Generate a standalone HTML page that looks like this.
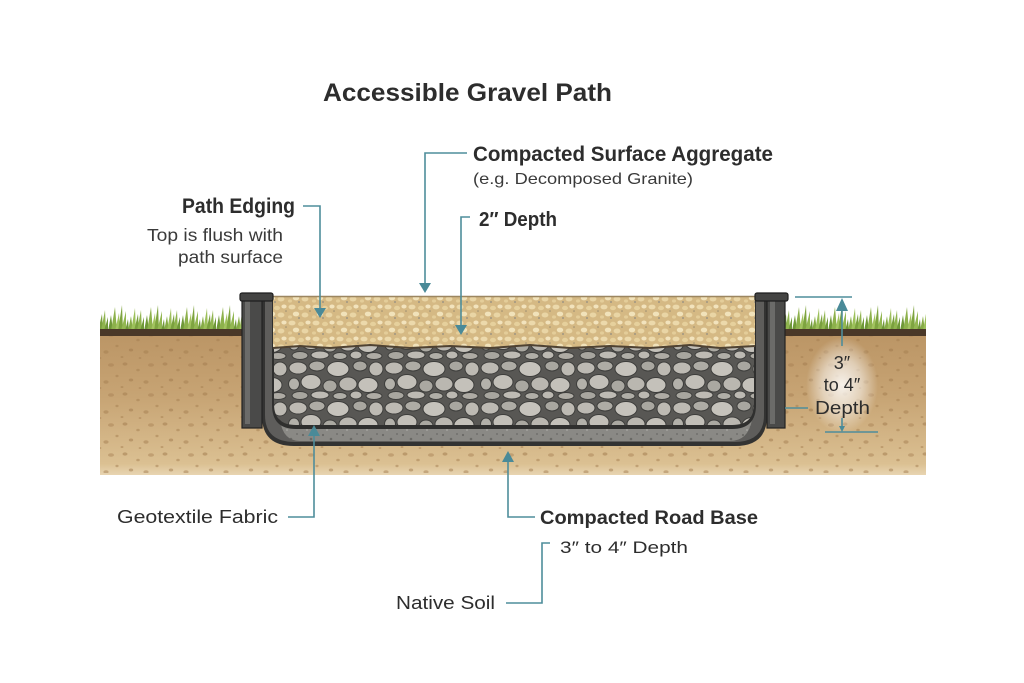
<!DOCTYPE html>
<html>
<head>
<meta charset="utf-8">
<style>
  html,body{margin:0;padding:0;background:#fff;}
  svg{display:block;}
  text{font-family:"Liberation Sans","DejaVu Sans",sans-serif;}
</style>
</head>
<body>
<svg width="1024" height="683" viewBox="0 0 1024 683" xmlns="http://www.w3.org/2000/svg">
  <defs>
    <linearGradient id="soilG" x1="0" y1="0" x2="0" y2="1">
      <stop offset="0" stop-color="#bb9565"/>
      <stop offset="0.45" stop-color="#c7a474"/>
      <stop offset="0.92" stop-color="#dbc092"/>
      <stop offset="1" stop-color="#e8d5b2"/>
    </linearGradient>
    <pattern id="soilP" patternUnits="userSpaceOnUse" width="40" height="30">
      <ellipse cx="5" cy="4" rx="2.5" ry="1.6" fill="#a47d50" opacity="0.55"/>
      <ellipse cx="18" cy="10" rx="1.8" ry="1.3" fill="#a47d50" opacity="0.5"/>
      <ellipse cx="31" cy="5" rx="3" ry="1.8" fill="#a47d50" opacity="0.45"/>
      <ellipse cx="11" cy="20" rx="2.2" ry="1.5" fill="#9e774b" opacity="0.5"/>
      <ellipse cx="26" cy="22" rx="2.6" ry="1.7" fill="#a47d50" opacity="0.5"/>
      <ellipse cx="37" cy="16" rx="1.6" ry="1.2" fill="#a47d50" opacity="0.5"/>
      <ellipse cx="2" cy="27" rx="1.5" ry="1" fill="#a47d50" opacity="0.5"/>
      <ellipse cx="20" cy="28" rx="1.4" ry="1" fill="#a47d50" opacity="0.45"/>
    </pattern>
    <pattern id="grassP" patternUnits="userSpaceOnUse" x="0" y="301" width="36" height="30">
      <polygon points="0,30 3,14 5,30" fill="#6f9838"/>
      <polygon points="3,30 7,6 9,30" fill="#8db14c"/>
      <polygon points="7,30 11,12 12,30" fill="#a2c35f"/>
      <polygon points="10,30 14,4 15,30" fill="#7ea440"/>
      <polygon points="13,30 18,10 18,30" fill="#93b752"/>
      <polygon points="17,30 20,18 21,30" fill="#6f9838"/>
      <polygon points="20,30 23,15 25,30" fill="#86ab46"/>
      <polygon points="23,30 27,7 28,30" fill="#9cc05a"/>
      <polygon points="26,30 30,13 31,30" fill="#7aa03e"/>
      <polygon points="29,30 33,9 34,30" fill="#8fb44e"/>
      <polygon points="32,30 36,16 36,30" fill="#6f9838"/>
    </pattern>
    <pattern id="aggP" patternUnits="userSpaceOnUse" width="24" height="16">
      <rect width="24" height="16" fill="#d5b984"/>
      <ellipse cx="4" cy="3" rx="3.5" ry="2.4" fill="#ecd9ab"/>
      <ellipse cx="13" cy="4" rx="3" ry="2.2" fill="#e6d09c"/>
      <ellipse cx="20" cy="2.5" rx="2.6" ry="2" fill="#f2e3bd"/>
      <ellipse cx="8" cy="10" rx="3.2" ry="2.4" fill="#f1e2ba"/>
      <ellipse cx="17" cy="11" rx="3.4" ry="2.5" fill="#e9d5a5"/>
      <ellipse cx="2" cy="13" rx="2" ry="1.6" fill="#e4cd99"/>
      <circle cx="11" cy="14" r="0.9" fill="#8f8a80"/>
      <circle cx="22" cy="7" r="0.8" fill="#9a8c70"/>
    </pattern>
    <pattern id="gravP" patternUnits="userSpaceOnUse" width="96" height="40">
      <rect width="96" height="40" fill="#585754"/>
      <g stroke="#3e3e3c" stroke-width="1">
        <ellipse cx="10" cy="8" rx="9" ry="6" fill="#bdbab3"/>
        <ellipse cx="29" cy="6" rx="8" ry="5" fill="#aeaca5"/>
        <ellipse cx="50" cy="9" rx="11" ry="7.5" fill="#c6c3bc"/>
        <ellipse cx="72" cy="6" rx="7" ry="5" fill="#a9a7a0"/>
        <ellipse cx="88" cy="9" rx="7" ry="7" fill="#bdbab3"/>
        <ellipse cx="6" cy="24" rx="5.5" ry="6" fill="#b3b1aa"/>
        <ellipse cx="23" cy="22" rx="10" ry="7.5" fill="#c2bfb8"/>
        <ellipse cx="42" cy="26" rx="7" ry="6" fill="#aaa8a1"/>
        <ellipse cx="60" cy="24" rx="9" ry="7" fill="#bab7b0"/>
        <ellipse cx="80" cy="25" rx="10" ry="7.5" fill="#c4c1ba"/>
        <ellipse cx="12" cy="35.5" rx="8" ry="4" fill="#a8a69f"/>
        <ellipse cx="32" cy="35" rx="9" ry="4" fill="#bebbb4"/>
        <ellipse cx="52" cy="36" rx="7" ry="3.5" fill="#b0aea7"/>
        <ellipse cx="68" cy="35" rx="6" ry="4" fill="#bcb9b2"/>
        <ellipse cx="86" cy="36" rx="8" ry="3.5" fill="#aeaba4"/>
      </g>
    </pattern>
    <pattern id="bandP" patternUnits="userSpaceOnUse" width="20" height="12">
      <rect width="20" height="12" fill="#8a8985"/>
      <circle cx="3" cy="3" r="1.1" fill="#6a6966"/>
      <circle cx="11" cy="7" r="1.3" fill="#6a6966"/>
      <circle cx="17" cy="2" r="0.9" fill="#6a6966"/>
      <circle cx="7" cy="10" r="1" fill="#a3a29e"/>
    </pattern>
    <radialGradient id="glow" cx="0.5" cy="0.5" r="0.5">
      <stop offset="0" stop-color="#ffffff" stop-opacity="0.85"/>
      <stop offset="0.55" stop-color="#ffffff" stop-opacity="0.5"/>
      <stop offset="1" stop-color="#ffffff" stop-opacity="0"/>
    </radialGradient>
  </defs>

  <!-- soil -->
  <rect x="100" y="333" width="826" height="142" fill="url(#soilG)"/>
  <rect x="100" y="333" width="826" height="140" fill="url(#soilP)"/>

  <!-- grass -->
  <rect x="100" y="301" width="142" height="30" fill="url(#grassP)"/>
  <rect x="785" y="301" width="141" height="30" fill="url(#grassP)"/>
  <rect x="100" y="329" width="142" height="7" fill="#4a3828"/>
  <rect x="785" y="329" width="141" height="7" fill="#4a3828"/>

  <!-- liner outer -->
  <path d="M262,296 L262,416 Q262,446 294,446 L735,446 Q767,446 767,416 L767,296 Z" fill="#333332"/>
  <path d="M265,296 L265,415 Q265,442 295,442 L734,442 Q764,442 764,415 L764,296 Z" fill="#5e5d5b"/>
  <path d="M280,420 Q283,441 300,441 L730,441 Q748,441 752,420 Z" fill="url(#bandP)"/>
  <!-- inner dark line -->
  <path d="M272,296 L272,405 Q272,429 296,429 L732,429 Q756,429 756,405 L756,296 Z" fill="#2f2f2e"/>
  <!-- gravel -->
  <path d="M274,340 L274,404 Q274,425 296,425 L732,425 Q754,425 754,404 L754,340 Z" fill="url(#gravP)"/>
  <!-- aggregate -->
  <path d="M273,296 L755,296 L755,346 L720,348 L690,345 L650,348 L610,346 L570,348 L530,345 L490,348 L450,346 L410,348 L370,345 L330,348 L300,346 L273,348 Z" fill="url(#aggP)"/>
  <path d="M273,348 L300,346 L330,348 L370,345 L410,348 L450,346 L490,348 L530,345 L570,348 L610,346 L650,348 L690,345 L720,348 L755,346" fill="none" stroke="#4f4232" stroke-width="2"/>
  <line x1="273" y1="296.5" x2="755" y2="296.5" stroke="#9c8660" stroke-width="1.5"/>

  <!-- posts -->
  <rect x="242" y="297" width="20" height="131" fill="#4a4a49" stroke="#222" stroke-width="1.2"/>
  <rect x="245" y="300" width="5" height="124" fill="#6b6b69"/>
  <rect x="240" y="293" width="33" height="8" rx="2" fill="#444443" stroke="#1f1f1f" stroke-width="1.2"/>
  <rect x="767" y="297" width="18" height="131" fill="#4a4a49" stroke="#222" stroke-width="1.2"/>
  <rect x="770" y="300" width="5" height="124" fill="#6b6b69"/>
  <rect x="755" y="293" width="33" height="8" rx="2" fill="#444443" stroke="#1f1f1f" stroke-width="1.2"/>

  <!-- right glow -->
  <ellipse cx="842" cy="385" rx="36" ry="48" fill="url(#glow)"/>

  <!-- connectors -->
  <g stroke="#4e8d9b" stroke-width="1.6" fill="none">
    <path d="M303,206 H320 V309"/>
    <path d="M467,153 H425 V284"/>
    <path d="M470,217 H461 V326"/>
    <path d="M288,517 H314 V435"/>
    <path d="M535,517 H508 V461"/>
    <path d="M506,603 H542 V543 H550"/>
    <path d="M795,297 H852"/>
    <path d="M842,310 V346"/>
    <path d="M785,408 H808"/>
    <path d="M842,418 V430"/>
    <path d="M825,432 H878"/>
  </g>
  <g fill="#4a8a98">
    <polygon points="314,308 326,308 320,318"/>
    <polygon points="419,283 431,283 425,293"/>
    <polygon points="455,325 467,325 461,335"/>
    <polygon points="308,436 320,436 314,425"/>
    <polygon points="502,462 514,462 508,451"/>
    <polygon points="836,311 848,311 842,298"/>
    <polygon points="839,426 845,426 842,432"/>
  </g>

  <!-- texts -->
  <text x="323" y="101" font-size="25" font-weight="bold" fill="#2d2d2d" textLength="289" lengthAdjust="spacingAndGlyphs">Accessible Gravel Path</text>
  <text x="473" y="161" font-size="21" font-weight="bold" fill="#2d2d2d" textLength="300" lengthAdjust="spacingAndGlyphs">Compacted Surface Aggregate</text>
  <text x="473" y="184" font-size="16" fill="#3a3a3a" textLength="220" lengthAdjust="spacingAndGlyphs">(e.g. Decomposed Granite)</text>
  <text x="479" y="226" font-size="20" font-weight="bold" fill="#2d2d2d" textLength="78" lengthAdjust="spacingAndGlyphs">2″ Depth</text>
  <text x="182" y="213" font-size="21" font-weight="bold" fill="#2d2d2d" textLength="113" lengthAdjust="spacingAndGlyphs">Path Edging</text>
  <text x="147" y="241" font-size="17.5" fill="#3a3a3a" textLength="136" lengthAdjust="spacingAndGlyphs">Top is flush with</text>
  <text x="178" y="263" font-size="17.5" fill="#3a3a3a" textLength="105" lengthAdjust="spacingAndGlyphs">path surface</text>
  <text x="117" y="523" font-size="18" fill="#2d2d2d" textLength="161" lengthAdjust="spacingAndGlyphs">Geotextile Fabric</text>
  <text x="540" y="524" font-size="19" font-weight="bold" fill="#2d2d2d" textLength="218" lengthAdjust="spacingAndGlyphs">Compacted Road Base</text>
  <text x="560" y="553" font-size="17" fill="#2d2d2d" textLength="128" lengthAdjust="spacingAndGlyphs">3″ to 4″ Depth</text>
  <text x="396" y="609" font-size="18" fill="#2d2d2d" textLength="99" lengthAdjust="spacingAndGlyphs">Native Soil</text>
  <text x="842" y="369" font-size="18" fill="#2d2d2d" text-anchor="middle">3″</text>
  <text x="842" y="391" font-size="18" fill="#2d2d2d" text-anchor="middle">to 4″</text>
  <text x="815" y="414" font-size="18" fill="#2d2d2d" textLength="55" lengthAdjust="spacingAndGlyphs">Depth</text>
</svg>
</body>
</html>
